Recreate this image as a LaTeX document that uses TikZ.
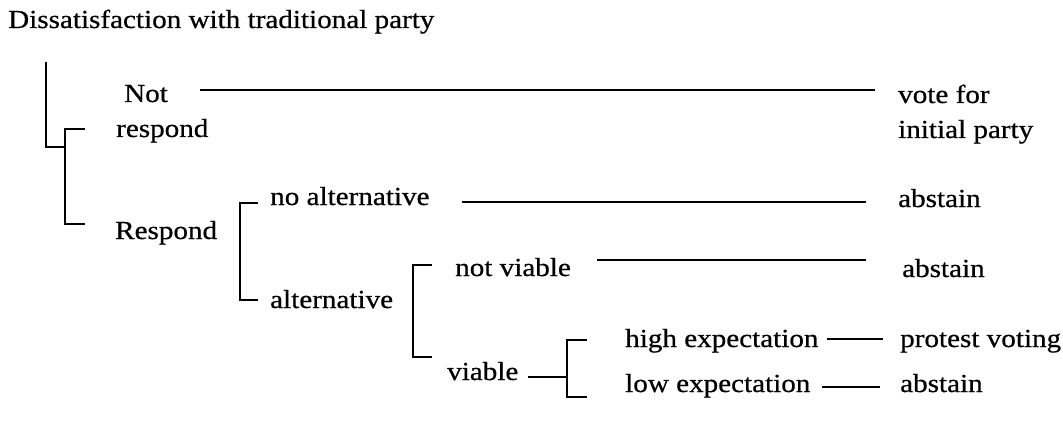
\documentclass[tikz,border=0pt]{standalone}
\usepackage{fontspec}
\setmainfont[FakeStretch=1.12,FakeBold=0.6]{Liberation Serif}
\usetikzlibrary{positioning}
\tikzset{
    lbl/.style={anchor=base west, inner sep=0pt, font=\fontsize{26}{31}\selectfont},
    link/.style={line width=1.1pt}
}
\begin{document}
\begin{tikzpicture}[x=1pt,y=-1pt]
    \useasboundingbox (0,0) rectangle (1063,425);

    % Labels
    \node[lbl] (root) at (8,28) {Dissatisfaction with traditional party};
    \node[lbl] (nnot) at (124,102) {Not};
    \node[lbl] (nresp) at (116,137) {respond};
    \node[lbl] (vote) at (898,103) {vote for};
    \node[lbl] (initp) at (898,138) {initial party};
    \node[lbl] (resp) at (115,239) {Respond};
    \node[lbl] (noalt) at (270,205) {no alternative};
    \node[lbl] (abst1) at (898,207) {abstain};
    \node[lbl] (alt) at (270,308) {alternative};
    \node[lbl] (notv) at (455,276) {not viable};
    \node[lbl] (abst2) at (902,277) {abstain};
    \node[lbl] (viab) at (447,380) {viable};
    \node[lbl] (high) at (625,347) {high expectation};
    \node[lbl] (prot) at (900,347) {protest voting};
    \node[lbl] (low) at (625,392) {low expectation};
    \node[lbl] (abst3) at (900,392) {abstain};

    % Brackets
    \coordinate (stem) at (46,62);
    \coordinate (b1t) at (85,129);
    \coordinate (b1b) at (85,224);
    \coordinate (b1m) at (65,147);
    \coordinate (b2t) at (258,203);
    \coordinate (b2b) at (258,300);
    \coordinate (b3t) at (432,265);
    \coordinate (b3b) at (432,357);
    \coordinate (b4t) at (587,340);
    \coordinate (b4b) at (587,397);
    \coordinate (b4m) at (567,377);

    \draw[link] (stem) |- (b1m);
    \draw[link] (b1t) -- ++(-20,0) |- (b1b);
    \draw[link] (b2t) -- ++(-18,0) |- (b2b);
    \draw[link] (b3t) -- ++(-19,0) |- (b3b);
    \draw[link] (b4t) -- ++(-20,0) |- (b4b);

    % Branches
    \draw[link] ([yshift=12pt]nnot.base -| 200,0) -- ([yshift=13pt]vote.base -| 875,0);
    \draw[link] ([yshift=3pt]noalt.base -| 462,0) -- ([yshift=5pt]abst1.base -| 866,0);
    \draw[link] ([yshift=16pt]notv.base -| 597,0) -- ([yshift=17pt]abst2.base -| 866,0);
    \draw[link] ([yshift=3pt]viab.base -| 528,0) -- (b4m);
    \draw[link] ([yshift=8pt]high.base -| 827,0) -- ([yshift=8pt]prot.base -| 883,0);
    \draw[link] ([yshift=5pt]low.base -| 822,0) -- ([yshift=5pt]abst3.base -| 880,0);
\end{tikzpicture}
\end{document}
